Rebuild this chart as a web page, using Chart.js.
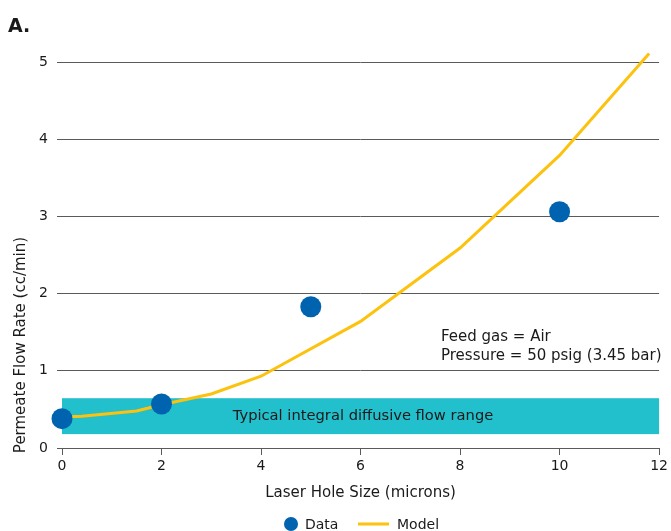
<!DOCTYPE html>
<html>
<head>
<meta charset="utf-8">
<script src="https://cdn.jsdelivr.net/npm/chart.js@4/dist/chart.umd.min.js"></script>
<style>
  html, body { margin: 0; padding: 0; background: #fff; }
  #wrap { width: 671px; height: 531px; position: relative; }
</style>
</head>
<body>
<div id="wrap"><canvas id="c" width="671" height="531"></canvas></div>
<script>
// ---- data ----
const dataX = [0, 2, 5, 10];
const dataY = [0.38, 0.57, 1.83, 3.06];
const modelX = [0, 0.4, 1.5, 2, 3, 4, 6, 8, 10, 11.8];
const modelY = [0.40, 0.41, 0.48, 0.56, 0.70, 0.93, 1.64, 2.59, 3.79, 5.11];
const xTicks = [0, 2, 4, 6, 8, 10, 12];
const yTicks = [0, 1, 2, 3, 4, 5];
const bandX = [0, 12];
const bandY = [0.18, 0.645];
const seriesNames = ['Data', 'Model'];
const panelLabel = 'A.';
const xTitle = 'Laser Hole Size (microns)';
const yTitle = 'Permeate Flow Rate (cc/min)';
const bandLabel = 'Typical integral diffusive flow range';
const noteLines = ['Feed gas = Air', 'Pressure = 50 psig (3.45 bar)'];

const FONT = '"DejaVu Sans", Verdana, sans-serif';
const TEXT = '#1a1a1a';
const GRID = '#5a5a5a';
const BLUE = '#0063af';
const YELLOW = '#fcc20e';
const TEAL = '#22bfcc';

const decor = {
  id: 'decor',
  beforeDatasetsDraw(chart) {
    const { ctx, scales: { x, y } } = chart;
    ctx.save();
    ctx.fillStyle = TEAL;
    const x0 = x.getPixelForValue(bandX[0]), x1 = x.getPixelForValue(bandX[1]);
    const y0 = y.getPixelForValue(bandY[1]), y1 = y.getPixelForValue(bandY[0]);
    ctx.fillRect(x0, y0, x1 - x0, y1 - y0);
    ctx.fillStyle = TEXT;
    ctx.font = '14.7px ' + FONT;
    ctx.textAlign = 'center';
    ctx.textBaseline = 'middle';
    ctx.fillText(bandLabel, 363, (y0 + y1) / 2);
    ctx.restore();
  },
  afterDraw(chart) {
    const { ctx, chartArea } = chart;
    ctx.save();
    ctx.fillStyle = TEXT;
    // panel label
    ctx.font = 'bold 19px ' + FONT;
    ctx.textAlign = 'left';
    ctx.textBaseline = 'alphabetic';
    ctx.fillText(panelLabel, 8, 32);
    // note
    ctx.font = '15px ' + FONT;
    ctx.textBaseline = 'middle';
    ctx.fillText(noteLines[0], 441, 337);
    ctx.fillText(noteLines[1], 441, 356);
    // x title
    ctx.textAlign = 'center';
    ctx.fillText(xTitle, (chartArea.left + chartArea.right) / 2, 493);
    // y title
    ctx.save();
    ctx.translate(21, 345);
    ctx.rotate(-Math.PI / 2);
    ctx.fillText(yTitle, 0, 0);
    ctx.restore();
    // legend
    const ly = 524;
    ctx.font = '14px ' + FONT;
    ctx.fillStyle = BLUE;
    ctx.beginPath();
    ctx.arc(291, ly, 7, 0, Math.PI * 2);
    ctx.fill();
    ctx.strokeStyle = YELLOW;
    ctx.lineWidth = 3;
    ctx.beginPath();
    ctx.moveTo(358, ly);
    ctx.lineTo(389, ly);
    ctx.stroke();
    ctx.fillStyle = TEXT;
    ctx.textAlign = 'left';
    ctx.fillText(seriesNames[0], 305, ly + 1);
    ctx.fillText(seriesNames[1], 397, ly + 1);
    ctx.restore();
  }
};

new Chart(document.getElementById('c'), {
  type: 'scatter',
  data: {
    datasets: [
      {
        label: seriesNames[0],
        data: dataX.map((v, i) => ({ x: v, y: dataY[i] })),
        backgroundColor: BLUE,
        borderColor: BLUE,
        pointRadius: 10.5,
        pointHoverRadius: 10.5,
        borderWidth: 0,
        clip: false
      },
      {
        label: seriesNames[1],
        data: modelX.map((v, i) => ({ x: v, y: modelY[i] })),
        showLine: true,
        borderColor: YELLOW,
        backgroundColor: YELLOW,
        borderWidth: 3,
        pointRadius: 0,
        pointHoverRadius: 0,
        tension: 0,
        clip: false
      }
    ]
  },
  options: {
    responsive: false,
    animation: false,
    events: [],
    layout: { padding: { top: 62, right: 11, left: 0, bottom: 0 } },
    plugins: { legend: { display: false }, tooltip: { enabled: false }, title: { display: false } },
    scales: {
      x: {
        type: 'linear',
        min: 0, max: 12,
        afterBuildTicks: s => { s.ticks = xTicks.map(v => ({ value: v })); },
        afterFit: s => { s.height = 83; },
        ticks: { color: TEXT, font: { family: FONT, size: 14 }, padding: 3, maxRotation: 0 },
        grid: { drawOnChartArea: false, drawTicks: true, tickLength: 7, color: GRID, lineWidth: 1 },
        border: { display: true, color: GRID, width: 1 }
      },
      y: {
        type: 'linear',
        min: 0, max: 5,
        afterBuildTicks: s => { s.ticks = yTicks.map(v => ({ value: v })); },
        afterFit: s => { s.width = 62; },
        ticks: { color: TEXT, font: { family: FONT, size: 14 }, padding: 9 },
        grid: { drawTicks: true, tickLength: 5, color: GRID, lineWidth: 1 },
        border: { display: false }
      }
    }
  },
  plugins: [decor]
});
</script>
</body>
</html>
